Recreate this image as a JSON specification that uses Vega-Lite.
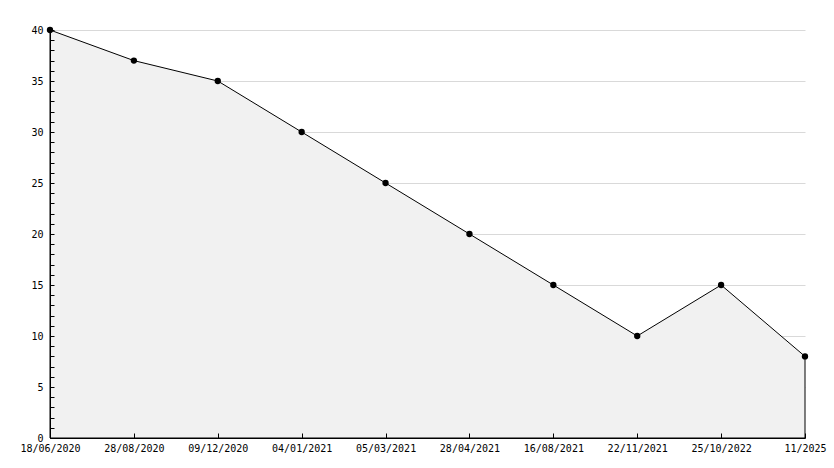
{
  "$schema": "https://vega.github.io/schema/vega-lite/v6.json",
  "autosize": "none",
  "width": 755,
  "height": 408,
  "padding": {"left": 50, "top": 30, "right": 29, "bottom": 30},
  "background": "white",
  "config": {
    "view": {"stroke": null},
    "axis": {
      "labelFont": "DejaVu Sans Mono",
      "labelFontSize": 10,
      "labelColor": "black",
      "domainColor": "black",
      "domainWidth": 1,
      "tickColor": "black",
      "tickWidth": 1,
      "title": null
    }
  },
  "data": {
    "values": [
      {"date": "18/06/2020", "value": 40},
      {"date": "28/08/2020", "value": 37},
      {"date": "09/12/2020", "value": 35},
      {"date": "04/01/2021", "value": 30},
      {"date": "05/03/2021", "value": 25},
      {"date": "28/04/2021", "value": 20},
      {"date": "16/08/2021", "value": 15},
      {"date": "22/11/2021", "value": 10},
      {"date": "25/10/2022", "value": 15},
      {"date": "11/2025", "value": 8}
    ]
  },
  "encoding": {
    "x": {
      "field": "date",
      "type": "ordinal",
      "sort": null,
      "scale": {"type": "point", "padding": 0},
      "axis": {
        "labelAngle": 0,
        "tickSize": -5,
        "labelPadding": 10,
        "labelFlush": false,
        "labelOverlap": false,
        "labelBound": false,
        "grid": false,
        "zindex": 1
      }
    }
  },
  "layer": [
    {
      "mark": {"type": "area", "fill": "#f1f1f1", "stroke": "black", "strokeWidth": 1},
      "encoding": {
        "y": {
          "field": "value",
          "type": "quantitative",
          "scale": {"domain": [0, 40], "nice": false, "zero": true},
          "axis": {
            "orient": "left",
            "values": [5, 10, 15, 20, 25, 30, 35, 40],
            "grid": true,
            "gridColor": "#d9d9d9",
            "labels": false,
            "ticks": false,
            "domain": false,
            "zindex": 0
          }
        }
      }
    },
    {
      "mark": {"type": "point", "filled": true, "color": "black", "size": 40, "opacity": 1},
      "encoding": {
        "y": {
          "field": "value",
          "type": "quantitative",
          "scale": {"domain": [0, 40], "nice": false, "zero": true},
          "axis": {
            "orient": "left",
            "values": [0,1,2,3,4,5,6,7,8,9,10,11,12,13,14,15,16,17,18,19,20,21,22,23,24,25,26,27,28,29,30,31,32,33,34,35,36,37,38,39,40],
            "labelExpr": "datum.value % 5 === 0 ? datum.label : ''",
            "tickSize": -4,
            "labelPadding": 11,
            "labelOverlap": false,
            "labelBound": false,
            "labelFlush": false,
            "grid": false,
            "zindex": 1
          }
        }
      }
    }
  ],
  "resolve": {"axis": {"y": "independent"}}
}
